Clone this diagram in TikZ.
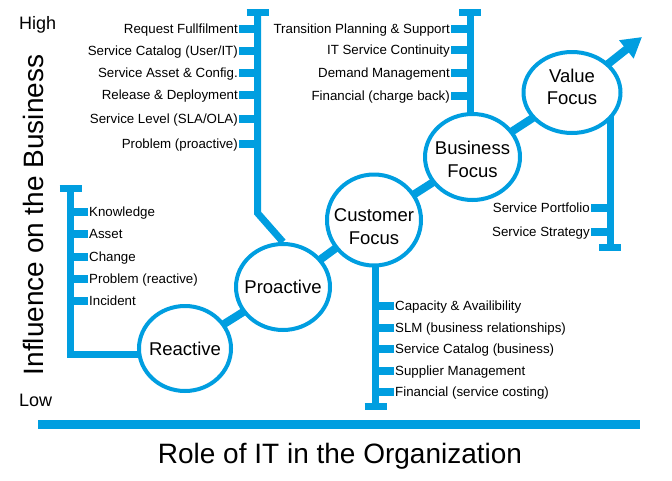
\documentclass[tikz,border=0pt]{standalone}
\usepackage{fontspec}
\setmainfont{Liberation Sans}
\usetikzlibrary{shapes.geometric,arrows.meta,backgrounds}
\definecolor{itblue}{RGB}{0,158,224}
\newcommand{\zbox}[1]{\makebox[0pt]{#1}}

\begin{document}
\begin{tikzpicture}[x=1pt,y=-1pt]
\tikzstyle{focus}=[draw=itblue,line width=4pt,fill=white,shape=ellipse,minimum width=94pt,minimum height=86pt,inner sep=0pt,align=center,font=\fontsize{18.5}{22.5}\selectfont];
\tikzstyle{link}=[draw=itblue,line width=8pt];
\tikzstyle{bar}=[draw=itblue,line width=7pt];
\tikzstyle{tick}=[draw=itblue,line width=8pt];
\tikzstyle{lbl}=[inner sep=1pt,text height=9.5pt,text depth=0pt,font=\fontsize{13.3}{15}\selectfont];
\tikzstyle{axis}=[inner sep=0pt,font=\fontsize{28}{32}\selectfont];
\tikzstyle{level}=[inner sep=0pt,anchor=base west,font=\fontsize{18}{21}\selectfont];
\useasboundingbox (0,0) rectangle (672,480);

% the five stages
\node[focus,minimum width=92pt,minimum height=85pt] (reactive) at (185,348.5) {\zbox{Reactive}};
\node[focus] (proactive) at (283,287) {\zbox{Proactive}};
\node[focus,minimum height=91pt] (customer) at (374,220) {\rule{0pt}{26.5pt}\zbox{Customer}\\\zbox{Focus}};
\node[focus,minimum width=95pt] (business) at (472.5,157) {\rule{0pt}{18.5pt}\zbox{Business}\\\zbox{Focus}};
\node[focus,minimum width=97pt,minimum height=81pt] (value) at (572,92.5) {\rule{0pt}{14pt}\zbox{Value}\\\zbox{Focus}\rule[-12.5pt]{0pt}{0pt}};
\coordinate (tip) at (642,37);

% bracket ends
\coordinate (rtop) at (70.5,188);
\coordinate (rcorner) at (70.5,354.5);
\coordinate (ptop) at (257.5,12);
\coordinate (pbend) at (257.5,213);
\coordinate (btop) at (470,12);
\coordinate (vbot) at (610,247);
\coordinate (cbot) at (375.5,406);

% reactive items
\node[lbl,anchor=west] (knowledge) at (88,212) {Knowledge};
\node[lbl,anchor=west] (asset) at (88,234) {Asset};
\node[lbl,anchor=west] (change) at (88,257) {Change};
\node[lbl,anchor=west] (problemr) at (88,279) {Problem (reactive)};
\node[lbl,anchor=west] (incident) at (88,301) {Incident};

% proactive items
\node[lbl,anchor=east] (request) at (239,29) {Request Fullfilment};
\node[lbl,anchor=east] (catalogit) at (239,51) {Service Catalog (User/IT)};
\node[lbl,anchor=east] (config) at (239,73) {Service Asset \& Config.};
\node[lbl,anchor=east] (release) at (239,95) {Release \& Deployment};
\node[lbl,anchor=east] (level) at (239,119) {Service Level (SLA/OLA)};
\node[lbl,anchor=east] (problemp) at (239,144) {Problem (proactive)};

% customer items
\node[lbl,anchor=west] (capacity) at (394,306) {Capacity \& Availibility};
\node[lbl,anchor=west] (slm) at (394,328) {SLM (business relationships)};
\node[lbl,anchor=west] (catalogb) at (394,349) {Service Catalog (business)};
\node[lbl,anchor=west] (supplier) at (394,371) {Supplier Management};
\node[lbl,anchor=west] (costing) at (394,392) {Financial (service costing)};

% business items
\node[lbl,anchor=east] (transition) at (451,29) {Transition Planning \& Support};
\node[lbl,anchor=east] (continuity) at (451,50) {IT Service Continuity};
\node[lbl,anchor=east] (demand) at (451,73) {Demand Management};
\node[lbl,anchor=east] (chargeback) at (451,96) {Financial (charge back)};

% value items
\node[lbl,anchor=east] (portfolio) at (591,208) {Service Portfolio};
\node[lbl,anchor=east] (strategy) at (591,232) {Service Strategy};

\begin{scope}[on background layer]
\draw[link] (reactive.center) -- (proactive.center) -- (customer.center) -- (business.center) -- (value.center);
\draw[link,-{Triangle[length=20pt,width=22pt]}] (value.center) -- (tip);
\draw[bar] (rtop) -- (rcorner) -- (rcorner -| reactive.center);
\draw[bar] (ptop) -- (pbend) -- (proactive.north);
\draw[bar] (btop) -- (btop |- business.center);
\draw[bar] (vbot) -- (vbot |- value.center);
\draw[bar] (cbot) -- (cbot |- customer.center);
\end{scope}

% caps
\draw[bar] ([xshift=-11pt]rtop) -- ([xshift=11pt]rtop);
\draw[bar] ([xshift=-11pt]ptop) -- ([xshift=11pt]ptop);
\draw[bar] ([xshift=-11pt]btop) -- ([xshift=11pt]btop);
\draw[bar] ([xshift=-11pt]vbot) -- ([xshift=11pt]vbot);
\draw[bar] ([xshift=-11pt]cbot) -- ([xshift=11pt]cbot);

% ticks
\draw[tick] (knowledge.west) -- (knowledge.west -| rtop);
\draw[tick] (asset.west) -- (asset.west -| rtop);
\draw[tick] (change.west) -- (change.west -| rtop);
\draw[tick] (problemr.west) -- (problemr.west -| rtop);
\draw[tick] (incident.west) -- (incident.west -| rtop);
\draw[tick] (request.east) -- (request.east -| ptop);
\draw[tick] (catalogit.east) -- (catalogit.east -| ptop);
\draw[tick] (config.east) -- (config.east -| ptop);
\draw[tick] (release.east) -- (release.east -| ptop);
\draw[tick] (level.east) -- (level.east -| ptop);
\draw[tick] (problemp.east) -- (problemp.east -| ptop);
\draw[tick] (capacity.west) -- (capacity.west -| cbot);
\draw[tick] (slm.west) -- (slm.west -| cbot);
\draw[tick] (catalogb.west) -- (catalogb.west -| cbot);
\draw[tick] (supplier.west) -- (supplier.west -| cbot);
\draw[tick] (costing.west) -- (costing.west -| cbot);
\draw[tick] (transition.east) -- (transition.east -| btop);
\draw[tick] (continuity.east) -- (continuity.east -| btop);
\draw[tick] (demand.east) -- (demand.east -| btop);
\draw[tick] (chargeback.east) -- (chargeback.east -| btop);
\draw[tick] (portfolio.east) -- (portfolio.east -| vbot);
\draw[tick] (strategy.east) -- (strategy.east -| vbot);

% axes
\node[level] (high) at (19,29) {High};
\node[level] (low) at (19,406) {Low};
\node[axis,rotate=90,anchor=base] (yaxis) at (43,215) {Influence on the Business};
\coordinate (xstart) at (38,424);
\coordinate (xend) at (640,424);
\draw[itblue,line width=9pt] (xstart) -- (xend);
\node[axis,anchor=base] (xaxis) at (340,463) {Role of IT in the Organization};
\end{tikzpicture}
\end{document}
